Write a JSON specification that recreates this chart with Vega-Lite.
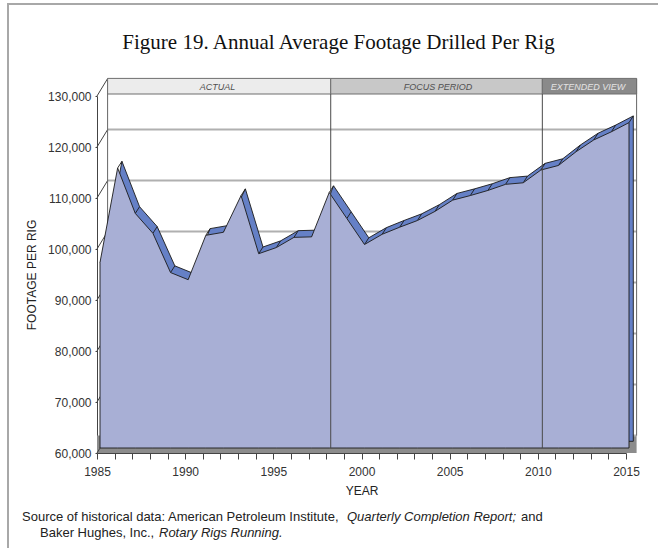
{
  "$schema": "https://vega.github.io/schema/vega-lite/v6.json",
  "autosize": {"type": "none"},
  "width": 529,
  "height": 357,
  "padding": {"left": 97, "top": 96, "right": 32, "bottom": 95},
  "background": "white",
  "datasets": {
    "series": [
      {"year": 1985, "v": 96400}, {"year": 1986, "v": 114900}, {"year": 1987, "v": 106000},
      {"year": 1988, "v": 102100}, {"year": 1989, "v": 94400}, {"year": 1990, "v": 93000},
      {"year": 1991, "v": 101700}, {"year": 1992, "v": 102300}, {"year": 1993, "v": 109500},
      {"year": 1994, "v": 98100}, {"year": 1995, "v": 99300}, {"year": 1996, "v": 101300},
      {"year": 1997, "v": 101400}, {"year": 1998, "v": 110100}, {"year": 1999, "v": 105000},
      {"year": 2000, "v": 99900}, {"year": 2001, "v": 101900}, {"year": 2002, "v": 103300},
      {"year": 2003, "v": 104600}, {"year": 2004, "v": 106400}, {"year": 2005, "v": 108600},
      {"year": 2006, "v": 109500}, {"year": 2007, "v": 110500}, {"year": 2008, "v": 111700},
      {"year": 2009, "v": 112000}, {"year": 2010, "v": 114500}, {"year": 2011, "v": 115400},
      {"year": 2012, "v": 118100}, {"year": 2013, "v": 120400}, {"year": 2014, "v": 122000},
      {"year": 2015, "v": 123800}
    ],
    "grid": [
      {"g": 60000}, {"g": 70000}, {"g": 80000}, {"g": 90000}, {"g": 100000},
      {"g": 110000}, {"g": 120000}, {"g": 130000}
    ],
    "periods": [
      {"label": "ACTUAL", "start": 1985, "end": 1998},
      {"label": "FOCUS PERIOD", "start": 1998, "end": 2010},
      {"label": "EXTENDED VIEW", "start": 2010, "end": 2015}
    ],
    "notes": [
      {"part": "Source of historical data:  American Petroleum Institute,", "row": 1, "style": "normal", "shift": -75},
      {"part": "Quarterly Completion Report;", "row": 1, "style": "italic", "shift": 250},
      {"part": "and", "row": 1, "style": "normal", "shift": 424},
      {"part": "Baker Hughes, Inc.,", "row": 2, "style": "normal", "shift": -57},
      {"part": "Rotary Rigs Running.", "row": 2, "style": "italic", "shift": 62}
    ],
    "one": [{"title": "Figure 19.  Annual Average Footage Drilled Per Rig"}]
  },
  "encoding": {
    "x": {
      "type": "quantitative",
      "scale": {"domain": [1985, 2015], "nice": false, "zero": false}
    },
    "y": {
      "type": "quantitative",
      "scale": {"domain": [60000, 130000], "nice": false, "zero": false}
    }
  },
  "layer": [
    {
      "data": {"name": "one"},
      "mark": {"type": "rule", "color": "#a8a8a8", "strokeWidth": 2, "xOffset": -89, "yOffset": 95, "y2Offset": -92},
      "encoding": {"x": {"datum": 1985, "type": "quantitative"}, "y": {"datum": 60000, "type": "quantitative"}, "y2": {"datum": 130000}}
    },
    {
      "data": {"name": "one"},
      "mark": {"type": "rule", "color": "#a8a8a8", "strokeWidth": 2, "xOffset": -90, "x2Offset": 40, "yOffset": -92},
      "encoding": {"x": {"datum": 1985, "type": "quantitative"}, "x2": {"datum": 2015}, "y": {"datum": 130000, "type": "quantitative"}}
    },
    {
      "data": {"name": "one"},
      "mark": {"type": "text", "font": "Liberation Serif", "fontSize": 21, "color": "#111", "align": "center", "baseline": "middle", "dx": -23, "dy": -53},
      "encoding": {"x": {"datum": 2000, "type": "quantitative"}, "y": {"datum": 130000, "type": "quantitative"}, "text": {"field": "title"}}
    },
    {
      "data": {"name": "one"},
      "mark": {"type": "rect", "color": "#8c8c8c", "x2Offset": 10.6, "y2Offset": -17.4},
      "encoding": {"x": {"datum": 1985, "type": "quantitative"}, "x2": {"datum": 2015}, "y": {"datum": 60000, "type": "quantitative"}, "y2": {"datum": 60000}}
    },
    {
      "data": {"name": "grid"},
      "transform": [{"filter": "datum.g < 130000"}],
      "mark": {"type": "rule", "color": "#b0b0b0", "strokeWidth": 2, "xOffset": 10.6, "x2Offset": 10.6, "yOffset": -17.4},
      "encoding": {"x": {"datum": 1985, "type": "quantitative"}, "x2": {"datum": 2015}, "y": {"field": "g", "type": "quantitative"}}
    },
    {
      "data": {"name": "grid"},
      "mark": {"type": "rule", "color": "#444", "strokeWidth": 1, "x2Offset": 10.6, "y2Offset": -17.4},
      "encoding": {"x": {"datum": 1985, "type": "quantitative"}, "x2": {"datum": 1985}, "y": {"field": "g", "type": "quantitative"}, "y2": {"field": "g"}}
    },
    {
      "data": {"name": "one"},
      "mark": {"type": "rule", "color": "#666", "strokeWidth": 1, "xOffset": 10.6, "yOffset": -17.4, "y2Offset": -17.4},
      "encoding": {"x": {"datum": 1985, "type": "quantitative"}, "y": {"datum": 60000, "type": "quantitative"}, "y2": {"datum": 130000}}
    },
    {
      "data": {"name": "one"},
      "mark": {"type": "rule", "color": "#666", "strokeWidth": 1, "xOffset": 10.6, "yOffset": -17.4, "y2Offset": -17.4},
      "encoding": {"x": {"datum": 2015, "type": "quantitative"}, "y": {"datum": 60000, "type": "quantitative"}, "y2": {"datum": 130000}}
    },
    {
      "data": {"name": "periods"},
      "transform": [{"filter": "datum.label == 'ACTUAL'"}],
      "mark": {"type": "rect", "fill": "#ececec", "stroke": "#6e6e6e", "strokeWidth": 1, "xOffset": 10.6, "x2Offset": 4.5, "yOffset": -2, "y2Offset": -17.6},
      "encoding": {"x": {"field": "start", "type": "quantitative"}, "x2": {"field": "end"}, "y": {"datum": 130000, "type": "quantitative"}, "y2": {"datum": 130000}}
    },
    {
      "data": {"name": "periods"},
      "transform": [{"filter": "datum.label == 'FOCUS PERIOD'"}],
      "mark": {"type": "rect", "fill": "#c8c8c8", "stroke": "#6e6e6e", "strokeWidth": 1, "xOffset": 4.5, "x2Offset": 4.5, "yOffset": -2, "y2Offset": -17.6},
      "encoding": {"x": {"field": "start", "type": "quantitative"}, "x2": {"field": "end"}, "y": {"datum": 130000, "type": "quantitative"}, "y2": {"datum": 130000}}
    },
    {
      "data": {"name": "periods"},
      "transform": [{"filter": "datum.label == 'EXTENDED VIEW'"}],
      "mark": {"type": "rect", "fill": "#8a8a8a", "stroke": "#6e6e6e", "strokeWidth": 1, "xOffset": 4.5, "x2Offset": 10.6, "yOffset": -2, "y2Offset": -17.6},
      "encoding": {"x": {"field": "start", "type": "quantitative"}, "x2": {"field": "end"}, "y": {"datum": 130000, "type": "quantitative"}, "y2": {"datum": 130000}}
    },
    {
      "data": {"name": "periods"},
      "transform": [{"calculate": "(datum.start + datum.end) / 2", "as": "mid"}],
      "mark": {"type": "text", "font": "Liberation Sans", "fontSize": 9, "fontStyle": "italic", "dx": 6, "dy": -9.5, "baseline": "middle", "align": "center"},
      "encoding": {
        "x": {"field": "mid", "type": "quantitative"},
        "y": {"datum": 130000, "type": "quantitative"},
        "text": {"field": "label"},
        "color": {"condition": {"test": "datum.label == 'EXTENDED VIEW'", "value": "#e4e4e4"}, "value": "#505050"}
      }
    },
    {
      "data": {"name": "series"},
      "mark": {"type": "area", "color": "#6580c6", "stroke": "#1a1a1a", "strokeWidth": 0.9, "xOffset": 7.3, "yOffset": -11.7, "y2Offset": -11.7},
      "encoding": {"x": {"field": "year", "type": "quantitative"}, "y": {"field": "v", "type": "quantitative"}, "y2": {"datum": 60000}}
    },
    {
      "data": {"name": "series"},
      "mark": {"type": "rule", "color": "#1a1a1a", "strokeWidth": 0.9, "xOffset": 3, "yOffset": -5, "x2Offset": 7.3, "y2Offset": -11.7},
      "encoding": {"x": {"field": "year", "type": "quantitative"}, "x2": {"field": "year"}, "y": {"field": "v", "type": "quantitative"}, "y2": {"field": "v"}}
    },
    {
      "data": {"name": "series"},
      "mark": {"type": "area", "color": "#a8afd5", "stroke": "#1a1a1a", "strokeWidth": 0.9, "xOffset": 3, "yOffset": -5, "y2Offset": -5},
      "encoding": {"x": {"field": "year", "type": "quantitative"}, "y": {"field": "v", "type": "quantitative"}, "y2": {"datum": 60000}}
    },
    {
      "data": {"name": "periods"},
      "transform": [{"filter": "datum.start > 1985"}],
      "mark": {"type": "rule", "color": "#4a4a4a", "strokeWidth": 1, "xOffset": 4.5, "yOffset": -5, "y2Offset": -2},
      "encoding": {"x": {"field": "start", "type": "quantitative"}, "y": {"datum": 60000, "type": "quantitative"}, "y2": {"datum": 130000}}
    },
    {
      "data": {"name": "notes"},
      "transform": [{"filter": "datum.style == 'normal'"}, {"calculate": "datum.row == 1 ? 64 : 80", "as": "down"}],
      "mark": {"type": "text", "font": "Liberation Sans", "fontSize": 13, "color": "#222", "align": "left", "baseline": "middle"},
      "encoding": {
        "x": {"datum": 1985, "type": "quantitative"},
        "y": {"datum": 60000, "type": "quantitative"},
        "xOffset": {"field": "shift", "type": "quantitative", "scale": null},
        "yOffset": {"field": "down", "type": "quantitative", "scale": null},
        "text": {"field": "part"}
      }
    },
    {
      "data": {"name": "notes"},
      "transform": [{"filter": "datum.style == 'italic'"}, {"calculate": "datum.row == 1 ? 64 : 80", "as": "down"}],
      "mark": {"type": "text", "font": "Liberation Sans", "fontSize": 13, "fontStyle": "italic", "color": "#222", "align": "left", "baseline": "middle"},
      "encoding": {
        "x": {"datum": 1985, "type": "quantitative"},
        "y": {"datum": 60000, "type": "quantitative"},
        "xOffset": {"field": "shift", "type": "quantitative", "scale": null},
        "yOffset": {"field": "down", "type": "quantitative", "scale": null},
        "text": {"field": "part"}
      }
    },
    {
      "data": {"name": "series"},
      "mark": {"type": "point", "opacity": 0},
      "encoding": {
        "x": {"field": "year", "type": "quantitative", "axis": {
          "title": "YEAR", "titleFont": "Liberation Sans", "titleFontSize": 12, "titleFontWeight": "normal", "titleColor": "#222", "titlePadding": 8,
          "values": [1985,1986,1987,1988,1989,1990,1991,1992,1993,1994,1995,1996,1997,1998,1999,2000,2001,2002,2003,2004,2005,2006,2007,2008,2009,2010,2011,2012,2013,2014,2015],
          "tickCount": 40,
          "labelExpr": "datum.value % 5 === 0 ? datum.value : ''",
          "labelFont": "Liberation Sans", "labelFontSize": 12, "labelColor": "#333", "labelPadding": 7,
          "domainColor": "#444", "tickColor": "#444", "tickSize": 6, "grid": false, "labelFlush": false, "labelOverlap": false
        }},
        "y": {"field": "v", "type": "quantitative", "axis": {
          "title": "FOOTAGE PER RIG", "titleFont": "Liberation Sans", "titleFontSize": 12, "titleFontWeight": "normal", "titleColor": "#222", "titlePadding": 9,
          "values": [60000,70000,80000,90000,100000,110000,120000,130000],
          "tickCount": 10,
          "format": ",d",
          "labelFont": "Liberation Sans", "labelFontSize": 12, "labelColor": "#333", "labelPadding": 4,
          "domainColor": "#444", "tickColor": "#444", "tickSize": 2, "grid": false, "labelFlush": false, "labelOverlap": false
        }}
      }
    }
  ],
  "config": {"view": {"stroke": null}}
}
